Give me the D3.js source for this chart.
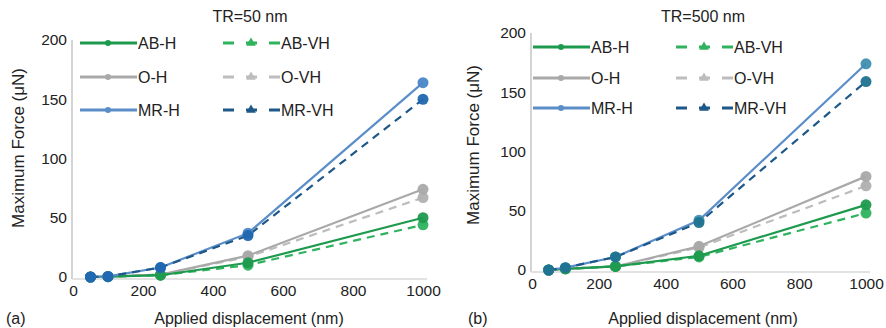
<!DOCTYPE html>
<html><head><meta charset="utf-8">
<script src="https://cdn.jsdelivr.net/npm/d3@7"></script>
<style>
body{margin:0;background:#fff;}
text{font-family:"Liberation Sans",Arial,sans-serif;fill:#222;}
</style></head>
<body><svg id="c" width="886" height="328"></svg>
<script>
const xValues = [50, 100, 250, 500, 1000];
const seriesNames = ["AB-H", "AB-VH", "O-H", "O-VH", "MR-H", "MR-VH"];
// Panel (a) TR=50 nm
const a_ABH  = [0, 0.3, 1.5, 12, 50];
const a_ABVH = [0, 0.3, 1.5, 10, 44];
const a_OH   = [0, 0.3, 2, 18, 74];
const a_OVH  = [0, 0.3, 2, 17, 67];
const a_MRH  = [0, 0.5, 8, 37, 164];
const a_MRVH = [0, 0.5, 8, 35, 150];
// Panel (b) TR=500 nm
const b_ABH  = [0, 1, 3, 12, 55];
const b_ABVH = [0, 1, 3, 11, 48];
const b_OH   = [0, 1, 3, 20, 79];
const b_OVH  = [0, 1, 3, 19, 71];
const b_MRH  = [0, 2, 11, 42, 174];
const b_MRVH = [0, 2, 11, 40, 159];
const yTicks = [0, 50, 100, 150, 200];
const xTicks = [0, 200, 400, 600, 800, 1000];

const styles = {
  "AB-H":  {color:"#1e9a4e", marker:"#1e9a4e", dash:null},
  "AB-VH": {color:"#2fb35e", marker:"#2fb35e", dash:"8,6"},
  "O-H":   {color:"#a9a9a9", marker:"#a9a9a9", dash:null},
  "O-VH":  {color:"#bdbdbd", marker:"#b0b0b0", dash:"8,6"},
  "MR-H":  {color:"#5b8ec8", marker:"#4a86c8", dash:null},
  "MR-VH": {color:"#1d5888", marker:"#1f66b0", dash:"8,6"}
};

const svg = d3.select("#c");
const FS = "16px";

function panel(cfg){
  const x = d3.scaleLinear().domain([0,1000]).range([cfg.x0, cfg.x1]);
  const y = d3.scaleLinear().domain([0,200]).range([cfg.y0, cfg.y1]);
  const g = svg.append("g");
  g.append("line").attr("x1",cfg.x0-1).attr("x2",cfg.x0-1).attr("y1",cfg.y1).attr("y2",cfg.y0+2)
    .attr("stroke","#d4d4d4").attr("stroke-width",2);
  g.append("line").attr("x1",cfg.x0-1).attr("x2",cfg.x1+4).attr("y1",cfg.y0+2).attr("y2",cfg.y0+2)
    .attr("stroke","#e2e2e2").attr("stroke-width",2);
  const ya = d3.axisLeft(y).tickValues(yTicks).tickSize(0).tickPadding(cfg.ypad).tickFormat(d3.format("d"));
  const yg = g.append("g").attr("transform",`translate(${cfg.x0},0)`).call(ya);
  yg.select(".domain").remove();
  yg.selectAll("text").style("font-size","15.5px").style("font-family","Liberation Sans, Arial, sans-serif").attr("fill","#222");
  const xa = d3.axisBottom(x).tickValues(xTicks).tickSize(0).tickPadding(3).tickFormat(d3.format("d"));
  const xg = g.append("g").attr("transform",`translate(0,${cfg.y0+5})`).call(xa);
  xg.select(".domain").remove();
  xg.selectAll("text").style("font-size","15.5px").style("font-family","Liberation Sans, Arial, sans-serif").attr("fill","#222");
  g.append("text").attr("x",cfg.titleX).attr("y",22).attr("text-anchor","middle").style("font-size",FS).text(cfg.title);
  g.append("text").attr("x",cfg.xtitleX).attr("y",324).attr("text-anchor","middle").style("font-size",FS).text("Applied displacement (nm)");
  g.append("text").attr("x",cfg.labX).attr("y",324).style("font-size",FS).text(cfg.lab);
  g.append("text").attr("transform",`translate(${cfg.ytitleX},${cfg.ytitleY}) rotate(-90)`)
    .attr("text-anchor","middle").style("font-size","17px").text("Maximum Force (\u03bcN)");
  const line = d3.line().x((d,i)=>x(xValues[i])).y(d=>y(d)).curve(d3.curveLinear);
  const order = ["O-VH","O-H","AB-VH","AB-H","MR-H","MR-VH"];
  order.forEach(n=>{
    const s = styles[n], vals = cfg.data[n];
    g.append("path").datum(vals).attr("d",line).attr("fill","none")
      .attr("stroke",s.color).attr("stroke-width",2.2)
      .attr("stroke-dasharray",s.dash);
  });
  order.forEach(n=>{
    const s = styles[n], vals = cfg.data[n];
    g.selectAll(null).data(vals).enter().append("circle")
      .attr("cx",(d,i)=>x(xValues[i])).attr("cy",d=>y(d)).attr("r",5.5)
      .attr("fill",cfg.markerOverride && cfg.markerOverride[n] ? cfg.markerOverride[n] : s.marker).attr("opacity",0.95);
  });
  const rows = [["AB-H","AB-VH"],["O-H","O-VH"],["MR-H","MR-VH"]];
  rows.forEach((r,ri)=>{
    const ly = cfg.legY[ri];
    r.forEach((n,ci)=>{
      const s = styles[n];
      const lx = cfg.legX[ci];
      g.append("line").attr("x1",lx).attr("x2",lx+57).attr("y1",ly).attr("y2",ly)
        .attr("stroke",s.color).attr("stroke-width",3).attr("stroke-dasharray",s.dash?"11,12":null);
      if(ci===0){
        g.append("circle").attr("cx",lx+28).attr("cy",ly).attr("r",3).attr("fill",s.color);
      } else {
        g.append("path").attr("d",d3.symbol(d3.symbolTriangle,40)()).attr("transform",`translate(${lx+28},${ly})`).attr("fill",s.color);
      }
      g.append("text").attr("x",lx+58).attr("y",ly+6).style("font-size",FS).text(n);
    });
  });
}

panel({x0:73,x1:423,y0:277,y1:40,ypad:6,title:"TR=50 nm",titleX:250,xtitleX:249,lab:"(a)",labX:6,ytitleX:24,ytitleY:148,
  legX:[80,223],legY:[43,77,110],
  data:{"AB-H":a_ABH,"AB-VH":a_ABVH,"O-H":a_OH,"O-VH":a_OVH,"MR-H":a_MRH,"MR-VH":a_MRVH}});
panel({x0:532,x1:866,y0:270,y1:33,ypad:6,title:"TR=500 nm",titleX:703,xtitleX:703,lab:"(b)",labX:468,ytitleX:479,ytitleY:145,
  legX:[533,676],legY:[47,78,108],
  markerOverride:{"MR-H":"#3f8fb0","MR-VH":"#1f7390"},
  data:{"AB-H":b_ABH,"AB-VH":b_ABVH,"O-H":b_OH,"O-VH":b_OVH,"MR-H":b_MRH,"MR-VH":b_MRVH}});
</script></body></html>
